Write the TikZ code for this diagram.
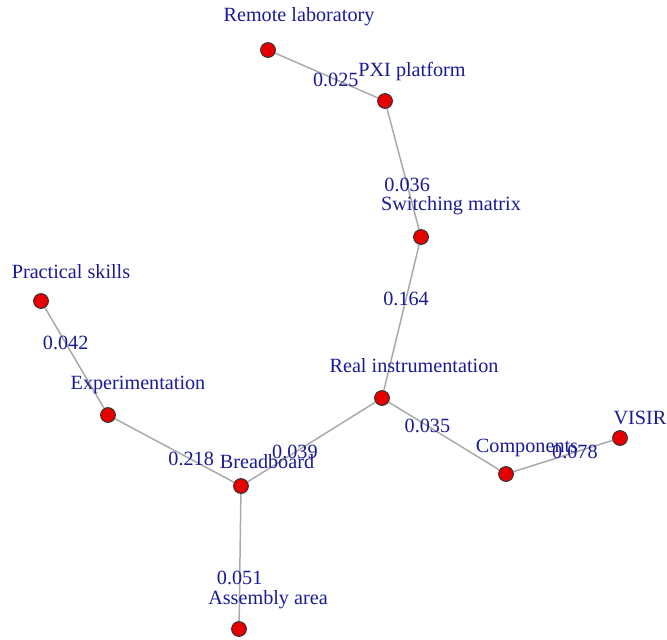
\documentclass[tikz,border=0pt]{standalone}
\usepackage{fontspec}
\setmainfont{Liberation Serif}
\usetikzlibrary{backgrounds}
\definecolor{lblblue}{RGB}{26,26,150}
\definecolor{edgegray}{RGB}{170,170,170}
\definecolor{vred}{RGB}{230,0,0}
\begin{document}
\begin{tikzpicture}[x=0.5pt,y=-0.5pt,font=\fontsize{10.1}{12}\selectfont,
  vertex/.style={circle,draw=black!80,fill=vred,line width=0.5pt,minimum size=7.4pt,inner sep=0pt},
  vlabel/.style={text=lblblue,inner sep=0pt},
  elabel/.style={text=lblblue,inner sep=0pt},
  edge/.style={draw=edgegray,line width=0.75pt}]
\useasboundingbox (0,0) rectangle (667,639);

\node[vertex] (remote) at (268,50) {};
\node[vertex] (pxi) at (385,101) {};
\node[vertex] (switch) at (421,237) {};
\node[vertex] (real) at (382,398) {};
\node[vertex] (skills) at (41,301) {};
\node[vertex] (exper) at (108,415) {};
\node[vertex] (bread) at (241,486) {};
\node[vertex] (comp) at (506,474) {};
\node[vertex] (visir) at (620,438) {};
\node[vertex] (assembly) at (239,629) {};

\node[vlabel] (remote-lbl) at (299,17) {Remote laboratory};
\node[vlabel] (pxi-lbl) at (412,72) {PXI platform};
\node[vlabel] (switch-lbl) at (451,206) {Switching matrix};
\node[vlabel] (real-lbl) at (414,366) {Real instrumentation};
\node[vlabel] (skills-lbl) at (71,272) {Practical skills};
\node[vlabel] (exper-lbl) at (138,385) {Experimentation};
\node[vlabel] (bread-lbl) at (267,462) {Breadboard};
\node[vlabel] (comp-lbl) at (527,448) {Components};
\node[vlabel] (visir-lbl) at (640,418) {VISIR};
\node[vlabel] (assembly-lbl) at (268,600) {Assembly area};

\begin{scope}[on background layer]
\draw[edge] (remote) -- node[elabel,pos=0.59] (e1) {0.025} (pxi);
\draw[edge] (pxi) -- node[elabel,pos=0.63] (e2) {0.036} (switch);
\draw[edge] (switch) -- node[elabel,pos=0.37] (e3) {0.164} (real);
\draw[edge] (real) -- node[elabel,pos=0.63] (e4) {0.039} (bread);
\draw[edge] (real) -- node[elabel,pos=0.35] (e5) {0.035} (comp);
\draw[edge] (comp) -- node[elabel,pos=0.62] (e6) {0.078} (visir);
\draw[edge] (bread) -- node[elabel,pos=0.36] (e7) {0.218} (exper);
\draw[edge] (exper) -- node[elabel,pos=0.65] (e8) {0.042} (skills);
\draw[edge] (bread) -- node[elabel,pos=0.66] (e9) {0.051} (assembly);
\end{scope}

\end{tikzpicture}
\end{document}
